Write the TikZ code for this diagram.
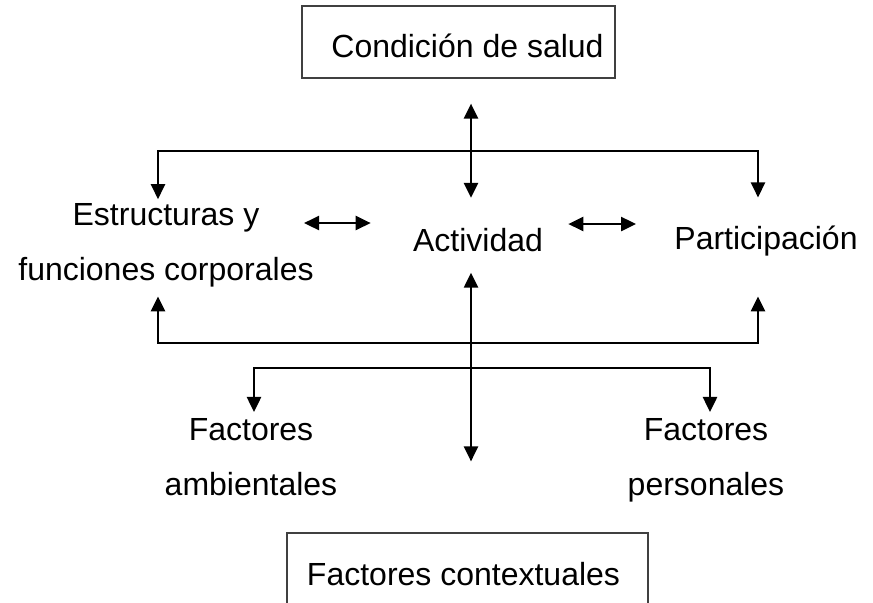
\documentclass[tikz,border=0pt]{standalone}
\usepackage{fontspec}
\setmainfont{Liberation Sans}
\usetikzlibrary{calc}
\usetikzlibrary{arrows.meta}

\begin{document}
\begin{tikzpicture}[x=0.5pt, y=-0.5pt,
        txt/.style={font=\fontsize{16}{27.5}\selectfont, inner sep=0pt, align=center},
        box/.style={draw=black!75, line width=0.6pt, font=\fontsize{16}{27.5}\selectfont,
            inner sep=2pt, text height=15pt, text depth=0pt},
        arr/.style={line width=1.25pt, {Triangle[length=7.5pt,width=7pt]}-{Triangle[length=7.5pt,width=7pt]}}]
        \path[use as bounding box, clip] (0,0) rectangle (873,602);
        % boxes
        \node[box, minimum width=156.5pt, minimum height=36pt] (salud) at (458.5,42) {\hspace*{9pt}Condición de salud};
        \node[box, minimum width=180.5pt, minimum height=37pt] (ctx) at (467.5,570) {Factores contextuales\hspace*{4pt}};
        % middle row
        \node[txt, anchor=base] (estr) at (166,280) {Estructuras y\\funciones corporales};
        \node[txt, anchor=base] (act) at (478,251) {Actividad};
        \node[txt, anchor=base] (part) at (766,249) {Participación};
        % factores
        \node[txt, anchor=base] (amb) at (251,495) {Factores\\ambientales};
        \node[txt, anchor=base] (pers) at (706,495) {Factores\\personales};
        % junctions on the axis
        \coordinate (ax) at (471,0);
        \coordinate (j1) at (471,151);
        \coordinate (j2) at (471,343);
        \coordinate (j3) at (471,368);
        % vertical arrows
        \draw[arr, shorten <=12.5pt, shorten >=14.8pt] (salud.south -| ax) -- (act.north -| ax);
        \draw[arr, shorten <=10.5pt, shorten >=35.5pt] (act.south -| ax) -- (ctx.north -| ax);
        % brackets
        \draw[arr, shorten <=1.7pt, shorten >=13.8pt] ([xshift=-4pt]estr.north) |- (j1) -| ([xshift=-4pt]part.north);
        \draw[arr, shorten <=4.7pt, shorten >=20.2pt] ([xshift=-4pt]estr.south) |- (j2) -| ([xshift=-4pt]part.south);
        \draw[arr, shorten <=2.8pt, shorten >=2.8pt] ([xshift=1.5pt]amb.north) |- (j3) -| ([xshift=2pt]pers.north);
        % horizontal arrows
        \draw[arr] ($(estr.east |- act.base)+(-10,-28)$) -- ($(act.base west)+(-42,-28)$);
        \draw[arr] ($(act.base east)+(25,-27)$) -- ($(part.base west)+(-38,-25)$);
\end{tikzpicture}
\end{document}
